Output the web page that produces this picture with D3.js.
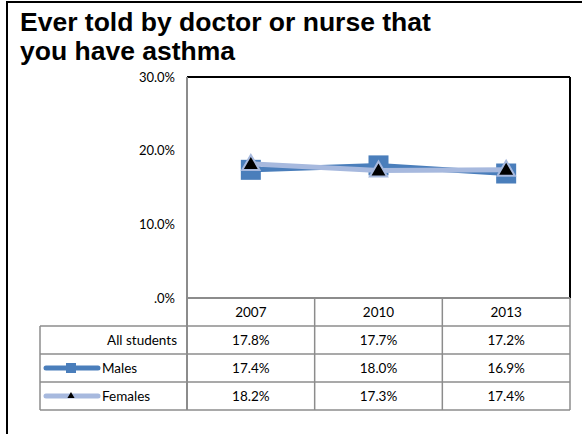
<!DOCTYPE html>
<html lang="en">
<head>
<meta charset="UTF-8">
<script src="https://d3js.org/d3.v7.min.js"></script>
<title>Asthma</title>
<style>
    body { margin: 0; background: #fff; }
    text { font-family: Lato, "Noto Sans", sans-serif; }
</style>
</head>
<body>
<script>
    // chart data
    var years = ["2007", "2010", "2013"];
    var allStudents = [17.8, 17.7, 17.2];
    var males = [17.4, 18.0, 16.9];
    var females = [18.2, 17.3, 17.4];
    var yTicks = [0, 10, 20, 30];
    var titleLines = ["Ever told by doctor or nurse that", "you have asthma"];

    var width = 582, height = 434;
    var plotLeft = 187, plotRight = 570, plotTop = 77, plotBottom = 298;   // plot area
    var rowH = 28;
    var tableLeft = 40;
    var fs = "13.5px";

    var svg = d3.select("body").append("svg")
        .attr("width", width)
        .attr("height", height);

    // outer frame
    svg.append("path")
        .attr("d", "M7," + (height + 5) + "V2H" + (width + 5))
        .attr("fill", "none").attr("stroke", "#000").attr("stroke-width", 2);

    // title
    svg.selectAll("text.title").data(titleLines).enter().append("text")
        .attr("class", "title")
        .attr("x", 20)
        .attr("y", function (d, i) { return 31 + i * 29; })
        .style("font-family", "'Liberation Sans', Arial, sans-serif")
        .style("font-weight", "bold")
        .style("font-size", "26.5px")
        .text(function (d) { return d; });

    var x = d3.scaleBand().domain(years).range([plotLeft, plotRight]);
    var y = d3.scaleLinear().domain([0, 30]).range([plotBottom, plotTop]);

    // y axis labels
    var yAxis = d3.axisLeft(y).tickValues(yTicks).tickSize(0).tickPadding(12)
        .tickFormat(function (d) { return d === 0 ? ".0%" : d.toFixed(1) + "%"; });
    var ga = svg.append("g").attr("transform", "translate(" + plotLeft + ",0)").call(yAxis);
    ga.select(".domain").remove();
    ga.selectAll("text").style("font-family", "Lato, 'Noto Sans', sans-serif")
        .style("font-size", "13px").attr("fill", "#000");

    // plot area border
    svg.append("line").attr("x1", plotLeft).attr("x2", plotRight).attr("y1", plotTop).attr("y2", plotTop)
        .attr("stroke", "#000").attr("stroke-width", 2);
    svg.append("line").attr("x1", plotRight).attr("x2", plotRight).attr("y1", plotTop).attr("y2", plotBottom)
        .attr("stroke", "#000").attr("stroke-width", 2);

    // series
    var line = d3.line()
        .x(function (d, i) { return x(years[i]) + x.bandwidth() / 2; })
        .y(function (d) { return y(d); });

    svg.append("path").datum(males).attr("d", line)
        .attr("fill", "none").attr("stroke", "#4a7ebb").attr("stroke-width", 5);
    svg.selectAll("rect.m").data(males).enter().append("rect")
        .attr("class", "m")
        .attr("x", function (d, i) { return x(years[i]) + x.bandwidth() / 2 - 10; })
        .attr("y", function (d) { return y(d) - 10; })
        .attr("width", 20).attr("height", 20)
        .attr("fill", "#4a7ebb");

    svg.append("path").datum(females).attr("d", line)
        .attr("fill", "none").attr("stroke", "#a7b9de").attr("stroke-width", 5);
    var tri = d3.symbol().type(d3.symbolTriangle).size(130);
    svg.selectAll("path.f").data(females).enter().append("path")
        .attr("class", "f")
        .attr("d", tri)
        .attr("transform", function (d, i) {
            return "translate(" + (x(years[i]) + x.bandwidth() / 2) + "," + (y(d) + 1) + ")";
        })
        .attr("fill", "#000").attr("stroke", "#a7b9de").attr("stroke-width", 2);

    // data table
    var rows = [
        { name: "All students", values: allStudents, key: null },
        { name: "Males", values: males, key: "m" },
        { name: "Females", values: females, key: "f" }
    ];
    var grid = "#8c8c8c";
    var tb = svg.append("g");
    years.forEach(function (yr, i) {
        tb.append("line").attr("x1", x(yr)).attr("x2", x(yr))
            .attr("y1", plotBottom).attr("y2", plotBottom + rowH * 4)
            .attr("stroke", grid).attr("stroke-width", 1.5);
    });
    tb.append("line").attr("x1", plotLeft).attr("x2", plotLeft).attr("y1", plotTop).attr("y2", plotBottom + rowH * 4)
        .attr("stroke", grid).attr("stroke-width", 2);
    tb.append("line").attr("x1", plotRight).attr("x2", plotRight).attr("y1", plotBottom).attr("y2", plotBottom + rowH * 4)
        .attr("stroke", grid).attr("stroke-width", 1.5);
    tb.append("line").attr("x1", plotLeft).attr("x2", plotRight).attr("y1", plotBottom).attr("y2", plotBottom)
        .attr("stroke", grid).attr("stroke-width", 2);
    tb.append("line").attr("x1", tableLeft).attr("x2", tableLeft)
        .attr("y1", plotBottom + rowH).attr("y2", plotBottom + rowH * 4)
        .attr("stroke", grid).attr("stroke-width", 1.5);
    [1, 2, 3, 4].forEach(function (r) {
        tb.append("line").attr("x1", tableLeft).attr("x2", plotRight)
            .attr("y1", plotBottom + rowH * r).attr("y2", plotBottom + rowH * r)
            .attr("stroke", grid).attr("stroke-width", 1.5);
    });

    tb.selectAll("text.yr").data(years).enter().append("text")
        .attr("x", function (d) { return x(d) + x.bandwidth() / 2; })
        .attr("y", plotBottom + rowH / 2 + 5)
        .attr("text-anchor", "middle")
        .style("font-size", fs)
        .text(function (d) { return d; });

    rows.forEach(function (r, ri) {
        var cy = plotBottom + rowH * (ri + 1) + rowH / 2;
        if (r.key) {
            tb.append("text").attr("x", 102).attr("y", cy + 5)
                .style("font-size", fs).text(r.name);
        } else {
            tb.append("text").attr("x", 177).attr("y", cy + 5)
                .attr("text-anchor", "end").style("font-size", fs).text(r.name);
        }
        if (r.key === "m") {
            tb.append("line").attr("x1", 46).attr("x2", 98).attr("y1", cy).attr("y2", cy)
                .attr("stroke", "#4a7ebb").attr("stroke-width", 5).attr("stroke-linecap", "round");
            tb.append("rect").attr("x", 66).attr("y", cy - 5).attr("width", 10).attr("height", 10)
                .attr("fill", "#4a7ebb");
        }
        if (r.key === "f") {
            tb.append("line").attr("x1", 46).attr("x2", 98).attr("y1", cy).attr("y2", cy)
                .attr("stroke", "#a7b9de").attr("stroke-width", 5).attr("stroke-linecap", "round");
            tb.append("path").attr("d", d3.symbol().type(d3.symbolTriangle).size(22))
                .attr("transform", "translate(71," + cy + ")").attr("fill", "#000");
        }
        tb.selectAll(null).data(r.values).enter().append("text")
            .attr("x", function (d, i) { return x(years[i]) + x.bandwidth() / 2; })
            .attr("y", cy + 5)
            .attr("text-anchor", "middle")
            .style("font-size", fs)
            .text(function (d) { return d.toFixed(1) + "%"; });
    });
</script>
</body>
</html>
